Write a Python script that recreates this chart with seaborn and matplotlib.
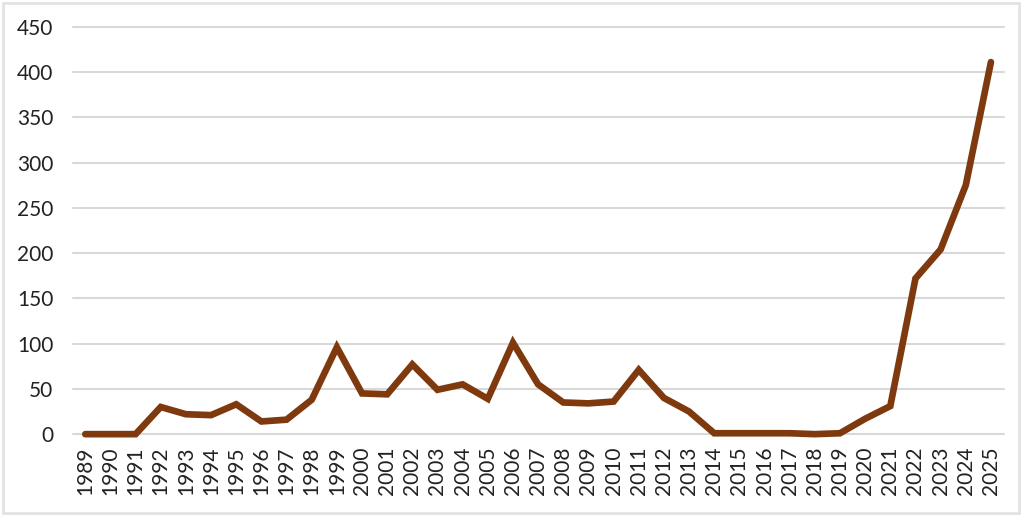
import matplotlib
matplotlib.use("Agg")
import matplotlib.pyplot as plt
import seaborn as sns
import numpy as np
import pandas as pd

years = list(range(1989, 2026))
values = [0, 0, 0, 30, 22, 21, 33, 14, 16, 38,
          96, 45, 44, 77, 49, 55, 39, 101, 55, 35,
          34, 36, 71, 40, 25, 1, 1, 1, 1, 0,
          1, 17, 31, 172, 204, 275, 411]
y_ticks = list(range(0, 451, 50))

line_color = '#7E3A0E'
grid_color = '#D9D9D9'

sns.set_theme(style='white')
plt.rcParams['font.family'] = ['Lato', 'DejaVu Sans']

df = pd.DataFrame({'year': years, 'value': values})

fig = plt.figure(figsize=(10.24, 5.15), dpi=100)
ax = fig.add_axes([0.071, 0.157, 0.909, 0.791])

# light horizontal gridlines
for t in y_ticks:
    ax.axhline(t, color=grid_color, lw=1.5, zorder=0)

sns.lineplot(data=df, x='year', y='value', color=line_color, lw=4.8,
             solid_capstyle='round', solid_joinstyle='miter', ax=ax)

ax.set_xlim(years[0] - 0.5, years[-1] + 0.5)
ax.set_ylim(0, 450)
ax.set_yticks(y_ticks)
ax.set_yticklabels([str(t) for t in y_ticks], fontsize=15, color='#222222')
ax.set_xticks(years)
ax.set_xticklabels([str(y) for y in years], rotation=90, fontsize=15, color='#222222')
ax.tick_params(axis='y', length=0, pad=14)
ax.tick_params(axis='x', length=0, pad=9)
ax.set_xlabel('')
ax.set_ylabel('')
for s in ax.spines.values():
    s.set_visible(False)
for ln in ax.lines:
    ln.set_clip_on(False)

# thin frame around the whole picture
fig.patches.append(plt.Rectangle((0.003, 0.004), 0.992, 0.99, transform=fig.transFigure,
                                 fill=False, edgecolor='#E3E3E3', lw=2))

fig.savefig('out.png', dpi=100)
